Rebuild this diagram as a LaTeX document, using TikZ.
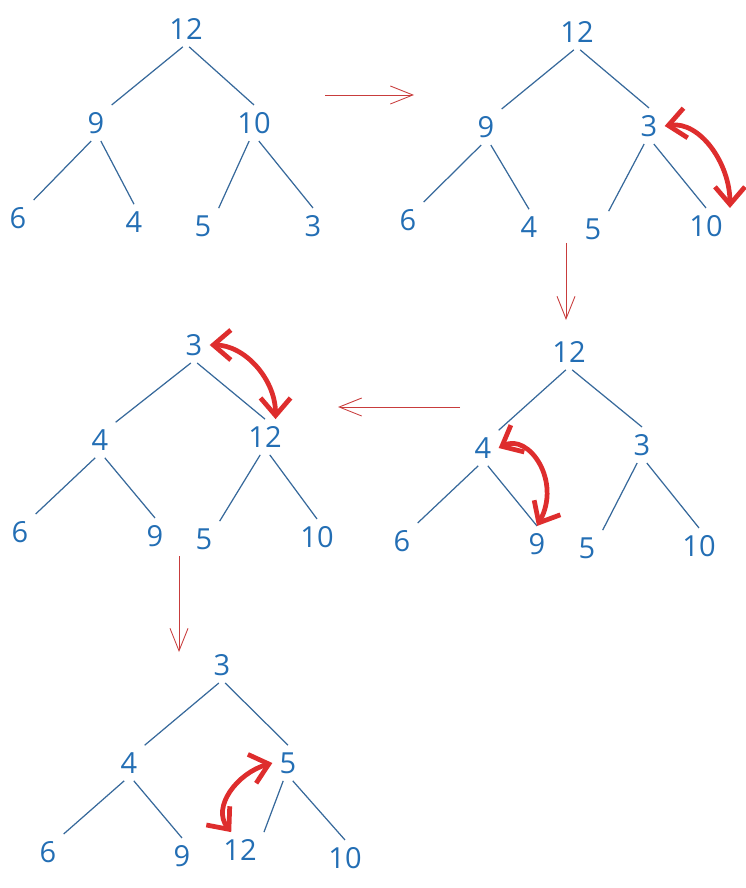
\documentclass[tikz,border=0pt]{standalone}
\usepackage{fontspec}
\setmainfont{Open Sans}
\usepackage{xcolor}
\usepackage{tikz}
\usetikzlibrary{arrows.meta}

\definecolor{heapblue}{RGB}{35,110,180}
\definecolor{lineblue}{RGB}{55,105,155}
\definecolor{swapred}{RGB}{222,45,45}
\definecolor{stepred}{RGB}{200,60,60}

\tikzset{
	treeline/.style={lineblue, line width=0.7pt},
	swaparrow/.style={swapred, line width=2.7pt, line cap=round,
		{Straight Barb[length=3.5mm,width=6mm]}-{Straight Barb[length=3.5mm,width=6mm]}},
	stepline/.style={stepred, line width=0.5pt, -{Straight Barb[length=4.5mm,width=3.6mm]}}
}

\begin{document}
\begin{tikzpicture}[x=0.02cm, y=-0.02cm, every node/.style={text=heapblue, inner sep=4pt, font=\fontsize{16.5}{18}\selectfont}]
		\useasboundingbox (0,0) rectangle (746,888);
		
		% Tree 1
		\node (A12) at (186,29) {12};
		\node (A9) at (96,123) {9};
		\node (A10) at (254,123) {10};
		\node (A6) at (18,218) {6};
		\node (A4) at (134,222) {4};
		\node (A5) at (203,226) {5};
		\node (A3) at (313,226) {3};
		
		\draw[treeline] (A12.-100) -- (A9.north east);
		\draw[treeline] (A12.-80) -- (A10.north);
		\draw[treeline] (A9.-105) -- (A6.north east);
		\draw[treeline] (A9.-75) -- (A4.north);
		\draw[treeline] (A10.-105) -- (A5.north east);
		\draw[treeline] (A10.-75) -- (A3.north);
		
		% Tree 2
		\node (B12) at (577,32) {12};
		\node (B9) at (486,127) {9};
		\node (B3) at (649,126) {3};
		\node (B6) at (408,220) {6};
		\node (B4) at (529,227) {4};
		\node (B5) at (593,229) {5};
		\node (B10) at (706,226) {10};
		
		\draw[treeline] (B12.-100) -- (B9.north east);
		\draw[treeline] (B12.-80) -- (B3.north);
		\draw[treeline] (B9.-105) -- (B6.north east);
		\draw[treeline] (B9.-75) -- (B4.north);
		\draw[treeline] (B3.-105) -- (B5.north east);
		\draw[treeline] (B3.-75) -- (B10.north);
		\draw[swaparrow] (B3.east) .. controls +(35,-5) and +(0,-45) .. (B10.north east);
		
		% Tree 3
		\node (C12) at (569,352) {12};
		\node (C4) at (483,448) {4};
		\node (C3) at (642,445) {3};
		\node (C6) at (402,541) {6};
		\node (C9) at (537,544) {9};
		\node (C5) at (587,548) {5};
		\node (C10) at (699,546) {10};
		
		\draw[treeline] (C12.-100) -- (C4.north east);
		\draw[treeline] (C12.-80) -- (C3.north);
		\draw[treeline] (C4.-105) -- (C6.north east);
		\draw[treeline] (C4.-75) -- (C9.north);
		\draw[treeline] (C3.-105) -- (C5.north east);
		\draw[treeline] (C3.-75) -- (C10.north);
		\draw[swaparrow] (C4.east) .. controls +(30,-15) and +(25,-45) .. (C9.north);
		
		% Tree 4
		\node (D3) at (194,345) {3};
		\node (D4) at (100,440) {4};
		\node (D12) at (265,437) {12};
		\node (D6) at (20,532) {6};
		\node (D9) at (155,536) {9};
		\node (D5) at (204,539) {5};
		\node (D10) at (317,537) {10};
		
		\draw[treeline] (D3.-100) -- (D4.north east);
		\draw[treeline] (D3.-80) -- (D12.north);
		\draw[treeline] (D4.-105) -- (D6.north east);
		\draw[treeline] (D4.-75) -- (D9.north);
		\draw[treeline] (D12.-105) -- (D5.north east);
		\draw[treeline] (D12.-75) -- (D10.north);
		\draw[swaparrow] (D3.east) .. controls +(35,0) and +(0,-40) .. ([xshift=6pt]D12.north);
		
		% Tree 5
		\node (E3) at (222,665) {3};
		\node (E4) at (129,763) {4};
		\node (E5) at (288,763) {5};
		\node (E6) at (48,852) {6};
		\node (E9) at (182,856) {9};
		\node (E12) at (240,850) {12};
		\node (E10) at (345,858) {10};
		
		\draw[treeline] (E3.-100) -- (E4.north east);
		\draw[treeline] (E3.-80) -- (E5.north);
		\draw[treeline] (E4.-105) -- (E6.north east);
		\draw[treeline] (E4.-75) -- (E9.north);
		\draw[treeline] (E5.-105) -- (E12.north east);
		\draw[treeline] (E5.-75) -- (E10.north);
		\draw[swaparrow] (E5.west) .. controls +(-35,10) and +(-20,-25) .. ([xshift=-5pt]E12.north);
		
		% Steps
		\coordinate (s1) at (325,95);
		\coordinate (t1) at (414,95);
		\coordinate (s2) at (566,243);
		\coordinate (t2) at (566,320);
		\coordinate (s3) at (460,407);
		\coordinate (t3) at (338,407);
		\coordinate (s4) at (179,556);
		\coordinate (t4) at (179,652);
		\draw[stepline] (s1) -- (t1);
		\draw[stepline] (s2) -- (t2);
		\draw[stepline] (s3) -- (t3);
		\draw[stepline] (s4) -- (t4);
	\end{tikzpicture}
\end{document}
